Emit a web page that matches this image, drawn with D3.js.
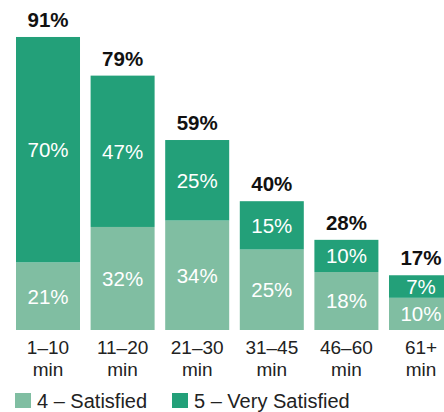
<!DOCTYPE html>
<html><head><meta charset="utf-8">
<script src="https://cdn.jsdelivr.net/npm/d3@7"></script>
<style>body{margin:0;background:#fff}svg{display:block}text{font-family:"Liberation Sans",Arial,sans-serif}</style>
</head><body><svg id="c" width="444" height="412"></svg>
<script>
const categories = [["1–10","min"],["11–20","min"],["21–30","min"],["31–45","min"],["46–60","min"],["61+","min"]];
const satisfied = [21,32,34,25,18,10];
const verySatisfied = [70,47,25,15,10,7];
const totals = [91,79,59,40,28,17];
const seriesNames = ["4 – Satisfied","5 – Very Satisfied"];
const colors = ["#80bea2","#23a079"];

const svg = d3.select("#c");
const keys = categories.map(c=>c.join(" "));
const x = d3.scaleBand().domain(keys).range([16,453]).paddingInner(0.142).paddingOuter(0);
const y = d3.scaleLinear().domain([0,100]).range([330,8]);

const rows = keys.map((k,i)=>({key:k, s4:satisfied[i], s5:verySatisfied[i], total:totals[i]}));
const stack = d3.stack().keys(["s4","s5"])(rows);

stack.forEach((layer,li)=>{
  const g = svg.append("g");
  g.selectAll("rect").data(layer).join("rect")
    .attr("x",d=>x(d.data.key)).attr("width",x.bandwidth())
    .attr("y",d=>y(d[1])).attr("height",d=>y(d[0])-y(d[1]))
    .attr("fill",colors[li]);
  g.selectAll("text").data(layer).join("text")
    .attr("x",d=>x(d.data.key)+x.bandwidth()/2)
    .attr("y",d=>(y(d[0])+y(d[1]))/2)
    .attr("dy","0.36em").attr("text-anchor","middle")
    .attr("fill","#fff").attr("font-size",20.5)
    .text(d=>(d[1]-d[0])+"%");
});

svg.append("g").selectAll("text").data(rows).join("text")
  .attr("x",d=>x(d.key)+x.bandwidth()/2)
  .attr("y",d=>y(d.total)-10)
  .attr("text-anchor","middle").attr("font-weight","bold").attr("font-size",20.5)
  .attr("fill","#111").text(d=>d.total+"%");

const xg = svg.append("g");
[0,1].forEach(line=>{
  xg.append("g").selectAll("text").data(categories).join("text")
    .attr("text-anchor","middle").attr("font-size",19).attr("fill","#222")
    .attr("x",(d,i)=>x(keys[i])+x.bandwidth()/2)
    .attr("y",354+line*22)
    .text(d=>d[line]);
});

const lx = [15,172];
const lg = svg.append("g").selectAll("g").data(seriesNames).join("g")
  .attr("transform",(d,i)=>`translate(${lx[i]},0)`);
lg.append("rect").attr("x",0).attr("y",393).attr("width",16).attr("height",15).attr("fill",(d,i)=>colors[i]);
lg.append("text").attr("x",22).attr("y",408).attr("font-size",20).attr("fill","#222").text(d=>d);
</script></body></html>
